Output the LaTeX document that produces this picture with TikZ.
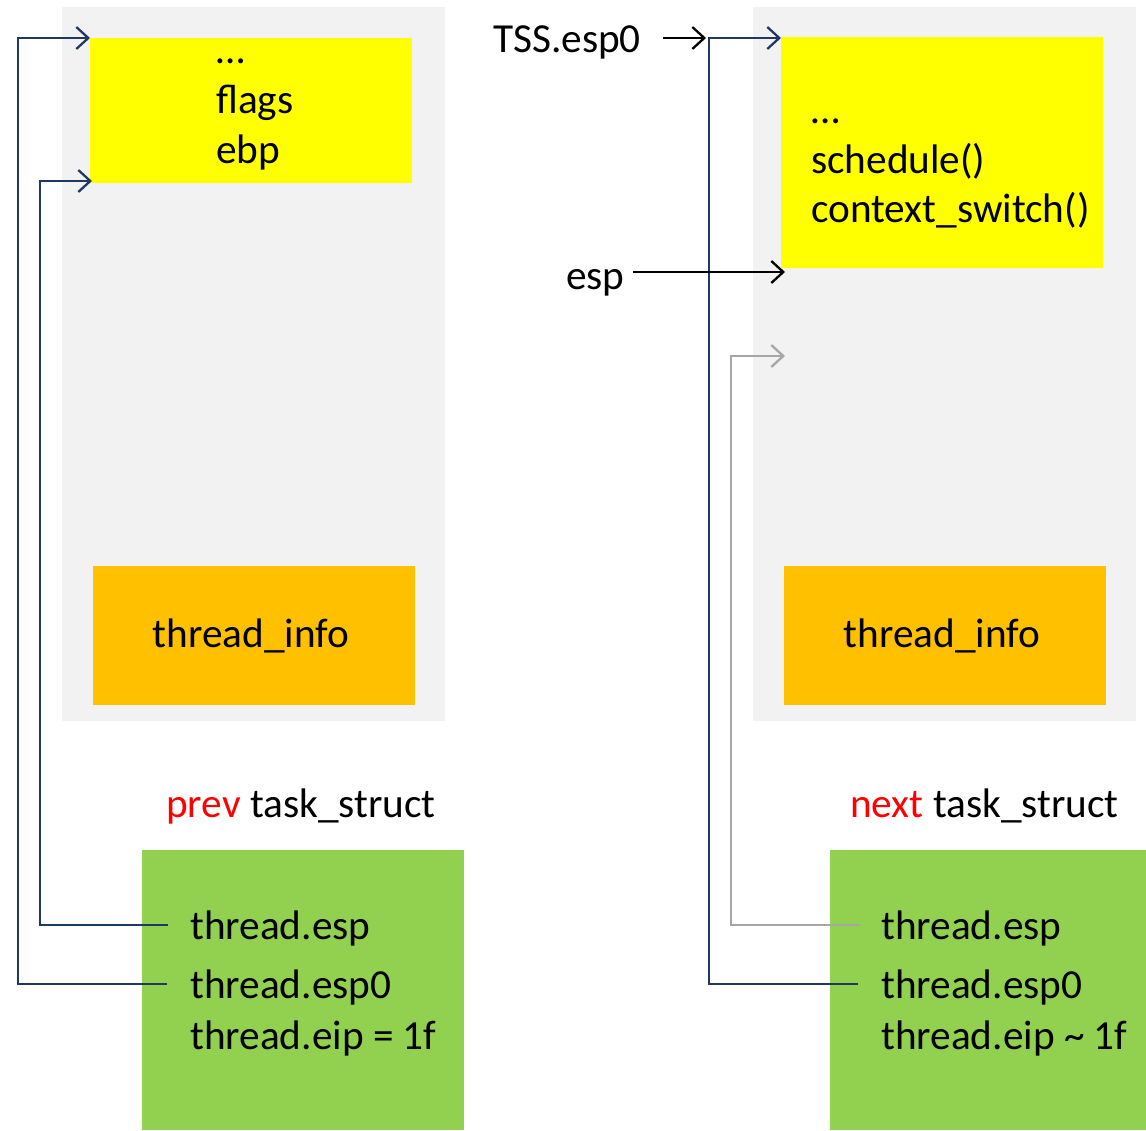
\documentclass[tikz,border=0pt]{standalone}
\usepackage{fontspec}
\setmainfont{Carlito}
\usetikzlibrary{arrows.meta}
\definecolor{bgGrey}{HTML}{F2F2F2}
\definecolor{yel}{HTML}{FFFF00}
\definecolor{orng}{HTML}{FFC000}
\definecolor{grn}{HTML}{92D050}
\definecolor{dblue}{HTML}{203864}
\definecolor{lgrey}{HTML}{A6A6A6}
\definecolor{hred}{HTML}{FF0000}
\begin{document}
\begin{tikzpicture}[x=1pt,y=-1pt,
  font=\fontsize{41.3pt}{50pt}\selectfont,
  blk/.style={draw=none,inner sep=0,anchor=north west},
  txt/.style={inner sep=0,anchor=base west},
  ctxt/.style={inner sep=0,anchor=base},
  tip/.style={-{Straight Barb[length=12pt,width=22pt,line width=2.3pt]}},
  bconn/.style={tip,draw=dblue,line width=2.3pt},
  gconn/.style={tip,draw=lgrey,line width=2.3pt},
  kconn/.style={tip,draw=black,line width=2.3pt}]
\useasboundingbox (0,0) rectangle (1146,1130);
% backgrounds
\node[blk,fill=bgGrey,minimum width=383pt,minimum height=714pt] (lbg) at (62,7) {};
\node[blk,fill=bgGrey,minimum width=383pt,minimum height=714pt] (rbg) at (753,7) {};
\node[blk,fill=yel,minimum width=322pt,minimum height=145pt] (lyel) at (90,38) {};
\node[blk,fill=yel,minimum width=322pt,minimum height=231pt] (ryel) at (781,37) {};
\node[blk,fill=orng,minimum width=322pt,minimum height=139pt] (lor) at (93,566) {};
\node[blk,fill=orng,minimum width=322pt,minimum height=139pt] (ror) at (784,566) {};
\node[blk,fill=grn,minimum width=322pt,minimum height=280pt] (lgr) at (142,850) {};
\node[blk,fill=grn,minimum width=316pt,minimum height=280pt] (rgr) at (830,850) {};
% texts
\node[txt] (ldots) at (216,63) {…};
\node[txt] (lflags) at (216,113) {flags};
\node[txt] (lebp) at (216,163) {ebp};
\node[txt] (rdots) at (811,123) {…};
\node[txt] (rsched) at (811,173) {schedule()};
\node[txt] (rctx) at (811,222) {context\_switch()};
\node[ctxt] (lti) at (251,647) {thread\_info};
\node[ctxt] (rti) at (942,647) {thread\_info};
\node[txt] (lts) at (166,817) {\textcolor{hred}{prev} task\_struct};
\node[txt] (rts) at (850,817) {\textcolor{hred}{next} task\_struct};
\node[txt] (lesp) at (190,939) {thread.esp};
\node[txt] (lesp0) at (190,998) {thread.esp0};
\node[txt] (leip) at (190,1049) {thread.eip = 1f};
\node[txt] (resp) at (881,939) {thread.esp};
\node[txt] (resp0) at (881,998) {thread.esp0};
\node[txt] (reip) at (881,1049) {thread.eip \char`\~{} 1f};
\node[txt] (tss) at (493,52) {TSS.esp0};
\node[txt] (esp) at (566,289) {esp};
% coordinates
\coordinate (lsE) at (168,925);
\coordinate (ls0E) at (167,984);
\coordinate (lyelB) at (92,181);
\coordinate (rsE) at (860,925);
\coordinate (rs0E) at (858,984);
\coordinate (rmid) at (785,356);
\coordinate (tssS) at (663,38);
\coordinate (tssE) at (706,38);
\coordinate (espS) at (633,272);
\coordinate (espE) at (785,272);
% connectors
\draw[bconn] (ls0E) -- (18,984) |- (lyel.north west);
\draw[bconn] (lsE) -- (40,925) |- (lyelB);
\draw[bconn] (rs0E) -- (709,984) |- ([yshift=-1pt]ryel.north west);
\draw[gconn] (rsE) -- (731,925) |- (rmid);
\draw[kconn] (tssS) -- (tssE);
\draw[kconn] (espS) -- (espE);
\end{tikzpicture}
\end{document}
